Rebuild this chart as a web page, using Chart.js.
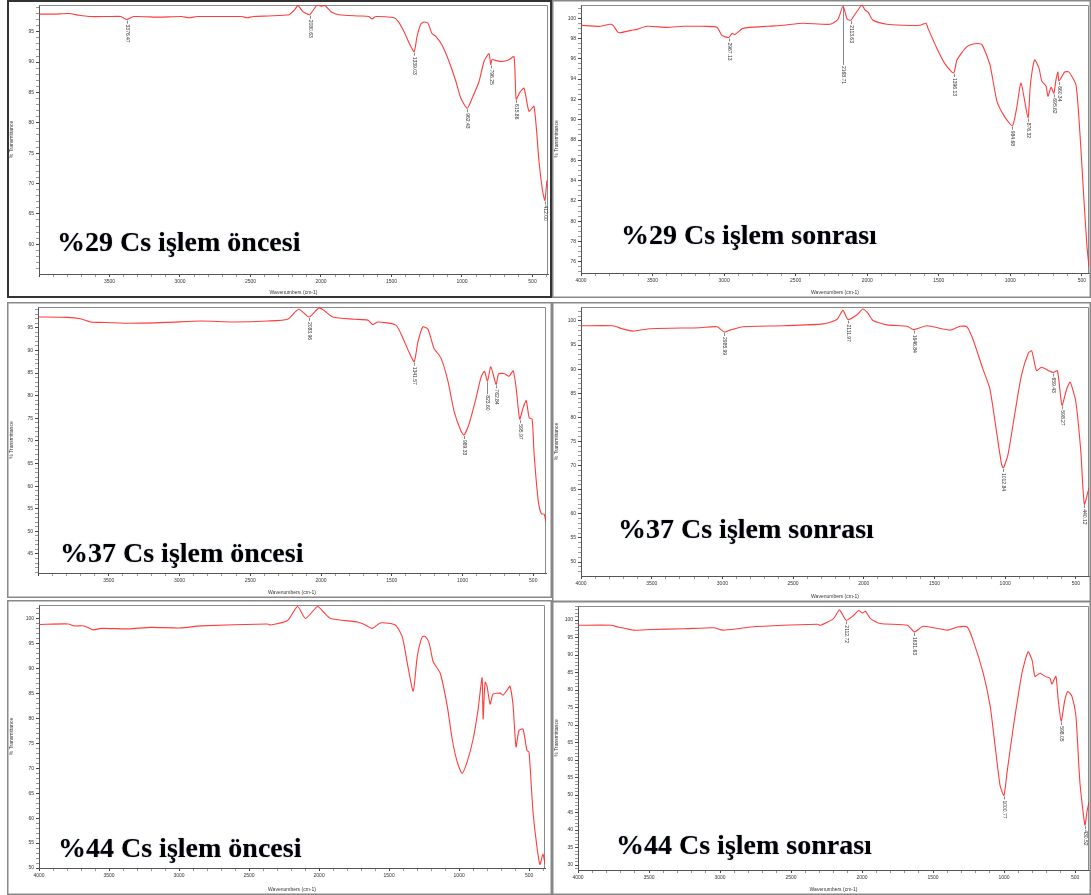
<!DOCTYPE html>
<html>
<head>
<meta charset="utf-8">
<script src="https://cdn.jsdelivr.net/npm/chart.js@4.4.1/dist/chart.umd.min.js"></script>
<style>
  html, body { margin: 0; padding: 0; background: #fff; }
  body { width: 1091px; height: 895px; position: relative; overflow: hidden; }
  canvas { position: absolute; }
</style>
</head>
<body>
<canvas id="c1"></canvas>
<canvas id="c2"></canvas>
<canvas id="c3"></canvas>
<canvas id="c4"></canvas>
<canvas id="c5"></canvas>
<canvas id="c6"></canvas>
<script>
// ---- FTIR spectra: wavenumber (cm-1) and % transmittance ----
const wn29Before = [4000,3894,3787,3716,3645,3504,3420,3376.47,3330,3149,2990,2936,2880,2652,2560,2525,2480,2369,2227,2191,2163,2128,2080.63,2057,2028,2000,1972,1929,1872,1730,1660,1638,1610,1482,1447,1411,1376,1339.03,1319,1291,1270,1241,1213,1184,1142,1092,1043,1007,962.43,929,879,844,809,796.25,787,750,716,667,631,615.86,590,560,525,489,454,430,412,398];
const tr29Before = [97.9,97.9,98.0,97.7,97.5,97.5,97.5,97.0,97.5,97.4,97.5,97.3,97.5,97.5,97.5,97.3,97.5,97.6,97.8,98.5,99.3,98.3,97.8,98.5,99.4,99.2,99.3,98.3,97.8,97.6,97.5,97.1,97.5,97.3,96.5,95.0,93.2,91.7,94.2,96.3,96.6,96.4,94.7,94.2,92.8,90.1,86.8,84.0,82.4,84.0,86.8,90.1,91.4,89.6,90.4,90.2,90.1,90.4,90.9,83.9,85.0,85.7,81.9,82.7,73.7,69.0,67.2,70.5];
const peaks29Before = [3376.47,2080.63,1339.03,962.43,796.25,615.86,412];

const wn29After = [4000,3867,3800,3776,3741,3713,3650,3609,3539,3400,3287,3150,3050,3015,2967.13,2945,2924,2868,2700,2588,2449,2260,2204,2168.71,2140,2113.63,2099,2050,2036,2015,1994,1959,1862,1750,1631,1589,1575,1512,1456,1396.13,1372,1303,1233,1198,1142,1093,1040,984.68,955,925,876.32,860,830,800,780,750,737,715,695.62,680,667,660.34,620,590,541,513,485,464,450];
const tr29After = [99.3,99.2,99.4,99.3,98.6,98.6,98.8,98.9,99.2,99.1,99.2,99.2,99.1,98.3,98.1,98.5,98.4,99.0,99.2,99.3,99.5,99.4,99.9,101.2,99.9,99.8,100.1,101.1,101.3,100.8,100.6,99.8,99.4,99.3,99.3,99.5,99.0,97.0,95.5,94.6,95.9,97.2,97.5,97.4,95.4,91.8,90.3,89.4,91.2,93.6,90.2,93.4,95.9,95.1,93.8,93.3,92.3,93.2,92.6,94.0,94.7,93.8,94.7,94.7,93.4,88.6,82.0,77.5,75.5];
const peaks29After = [2967.13,2168.71,2113.63,1396.13,984.68,876.32,695.62,660.34];

const wn37Before = [4000,3794,3701,3630,3560,3369,3086,2852,2618,2377,2236,2158,2083.96,2016,1981,1917,1768,1669,1634,1598,1471,1421,1379,1341.57,1315,1280,1244,1202,1152,1103,1060,1011,989.33,954,904,870,845,823.6,800,762.84,745,706,671,642,621,595.97,572,550,529,508,494,465,443,423,410];
const tr37Before = [97.4,97.3,97.0,96.3,96.2,96.0,96.2,96.5,96.3,96.5,96.9,99.1,97.4,99.4,98.9,97.4,96.9,96.7,95.7,96.3,95.6,92.7,89.7,87.5,91.9,95.2,94.7,90.5,88.3,83.2,76.6,72.2,71.3,73.7,79.5,84.0,85.4,83.2,86.4,82.5,84.8,84.9,84.3,85.5,81.7,74.8,77.3,78.9,75.1,74.8,67.1,56.8,53.9,53.8,52.1];
const peaks37Before = [2083.96,1341.57,989.33,823.6,762.84,595.97];

const wn37After = [4000,3774,3710,3632,3512,3158,3038,2985.99,2946,2854,2571,2289,2190,2147,2111.97,2048,2006,1970,1935,1836,1694,1646.84,1553,1390,1320,1270,1228,1157,1108,1058,1025,1012.84,980,930,885,835,812,778,743,693,659.43,630,598.27,565,540,500,465,440.12,407];
const tr37After = [99.0,99.0,98.4,97.9,98.4,98.6,98.8,97.7,98.1,98.8,99.0,99.4,100.3,102.2,100.3,101.3,102.5,101.6,100.1,99.2,98.9,98.2,99.0,98.1,98.9,98.8,96.2,90.0,85.9,76.4,70.2,69.5,72.3,81.1,88.7,93.4,93.8,89.7,90.4,89.7,89.3,89.7,82.5,85.9,87.3,83.2,73.0,62.0,65.4];
const peaks37After = [2985.99,2111.97,1646.84,1012.84,659.43,598.27,440.12];

const wn44Before = [4000,3792,3749,3678,3614,3557,3365,3201,2987,2845,2368,2346,2225,2154,2097,2011,1969,1919,1726,1684,1620,1563,1456,1406,1370,1328,1299,1264,1242,1214,1185,1135,1085,1050,1014,979,943,900,865,836,829,815,801,779,758,708,687,658,637,615,594,573,544,516,501,473,444,423,402,387];
const tr44Before = [98.9,99.0,98.6,98.6,97.8,98.1,98.0,98.3,98.2,98.6,99.0,98.8,99.7,102.5,100.1,102.5,101.4,100.1,99.4,99.0,98.1,99.2,98.8,96.4,91.1,85.5,92.5,96.4,96.5,95.1,91.4,89.1,82.5,75.9,71.3,69.0,71.3,75.9,81.8,88.2,79.9,87.3,86.5,82.9,84.9,85.1,84.7,85.7,86.5,82.6,74.3,77.6,77.9,73.6,73.3,61.4,54.2,50.7,52.8,50.9];
const peaks44Before = [];

const wn44After = [4000,3767,3718,3605,3486,3254,3044,2980,2875,2784,2552,2313,2292,2201,2159,2112.72,2060,2025,1997,1976,1941,1871,1681,1631.63,1569,1400,1330,1260,1218,1147,1098,1063,1028,1000.77,979,937,874,831,803,782,747,712,677,663,635,621,598.05,572,551,522,494,466,430.52,417,402];
const tr44After = [98.5,98.5,98.0,97.1,97.3,97.5,97.8,97.1,97.5,98.0,98.5,98.8,98.5,100.4,102.9,99.9,101.3,102.7,102.0,102.5,100.4,99.0,98.5,96.6,98.2,97.1,98.0,98.0,94.2,84.8,75.4,64.0,52.7,49.9,56.5,68.8,84.8,90.9,88.6,83.9,84.8,83.9,83.4,81.7,83.9,78.2,71.1,77.2,79.6,78.2,72.5,53.6,41.4,45.1,48.0];
const peaks44After = [2112.72,1631.63,1000.77,598.05,430.52];

const panelTitles = ['%29 Cs işlem öncesi','%29 Cs işlem sonrası','%37 Cs işlem öncesi','%37 Cs işlem sonrası','%44 Cs işlem öncesi','%44 Cs işlem sonrası'];

// ---- layout of the six panels (page pixels) ----
const panels = [
  { id:'c1', left:7,   top:0,   w:545, h:298, area:{l:39, t:3,   r:548,  b:274}, x:[390,4000], y:[55.1,99.4], yMajor:5, yMinor:1, wn:wn29Before, tr:tr29Before, peaks:peaks29Before, title:panelTitles[0], tx:57,  ty:251, frame:'#333', fw:2, hide4000:true,  lead:{} },
  { id:'c2', left:552, top:0,   w:539, h:298, area:{l:581,t:3,   r:1089, b:273}, x:[450,4000], y:[74.9,101.3], yMajor:2, yMinor:0.5, wn:wn29After, tr:tr29After, peaks:peaks29After, title:panelTitles[1], tx:621, ty:244, frame:'#888', fw:1.5, hide4000:false, lead:{2168.71:58} },
  { id:'c3', left:7,   top:302, w:545, h:296, area:{l:38, t:306, r:546,  b:573}, x:[410,4000], y:[40.8,99.6], yMajor:5, yMinor:1, wn:wn37Before, tr:tr37Before, peaks:peaks37Before, title:panelTitles[2], tx:60,  ty:562, frame:'#888', fw:1.5, hide4000:true,  lead:{823.6:12} },
  { id:'c4', left:552, top:302, w:539, h:300, area:{l:581,t:305, r:1089, b:576}, x:[407,4000], y:[47.1,102.9], yMajor:5, yMinor:1, wn:wn37After, tr:tr37After, peaks:peaks37After, title:panelTitles[3], tx:618, ty:538, frame:'#888', fw:1.5, hide4000:false, lead:{} },
  { id:'c5', left:7,   top:600, w:545, h:295, area:{l:39, t:604, r:545,  b:868}, x:[387,4000], y:[50,102.8], yMajor:5, yMinor:1, wn:wn44Before, tr:tr44Before, peaks:peaks44Before, title:panelTitles[4], tx:58,  ty:857, frame:'#888', fw:1.5, hide4000:false, lead:{} },
  { id:'c6', left:552, top:601, w:539, h:294, area:{l:578,t:606, r:1089, b:870}, x:[402,4000], y:[28.6,104], yMajor:5, yMinor:1, wn:wn44After, tr:tr44After, peaks:peaks44After, title:panelTitles[5], tx:616, ty:854, frame:'#888', fw:1.5, hide4000:false, lead:{} }
];

const tickFont = { family: '"Liberation Sans", Arial, sans-serif', size: 5 };

// evenly spaced tick values (major and minor) inside [min, max]
function tickValues(min, max, step) {
  const out = [];
  const k0 = Math.ceil(min / step - 1e-9), k1 = Math.floor(max / step + 1e-9);
  for (let k = k0; k <= k1; k++) out.push({ value: Math.round(k * step * 1000) / 1000 });
  return out;
}
const isMultiple = (v, m) => Math.abs(v / m - Math.round(v / m)) < 1e-6;

function decorPlugin(p) {
  return {
    id: 'decor_' + p.id,
    beforeDatasetsDraw(chart) {
      // thin box round the plotting area
      const a = chart.chartArea, ctx = chart.ctx;
      ctx.save();
      ctx.strokeStyle = '#8a8a8a';
      ctx.lineWidth = 1;
      ctx.beginPath();
      ctx.moveTo(Math.round(a.left) + 0.5, Math.round(a.top) + 0.5);
      ctx.lineTo(Math.round(a.right) - 0.5, Math.round(a.top) + 0.5);
      ctx.lineTo(Math.round(a.right) - 0.5, Math.round(a.bottom));
      ctx.stroke();
      ctx.restore();
    },
    afterDatasetsDraw(chart) {
      const ctx = chart.ctx, xs = chart.scales.x, ys = chart.scales.y;
      ctx.save();
      ctx.font = '5px "Liberation Sans", Arial, sans-serif';
      ctx.fillStyle = '#333';
      ctx.strokeStyle = '#555';
      ctx.lineWidth = 0.7;
      p.peaks.forEach((w) => {
        const i = p.wn.indexOf(w);
        if (i < 0) return;
        const x = Math.round(xs.getPixelForValue(w)) + 0.5;
        const y = ys.getPixelForValue(p.tr[i]);
        const len = p.lead[w] || 3;
        ctx.beginPath();
        ctx.moveTo(x, y + 1);
        ctx.lineTo(x, y + 1 + len);
        ctx.stroke();
        ctx.save();
        ctx.translate(x, y + len + 2);
        ctx.rotate(Math.PI / 2);
        ctx.textAlign = 'left';
        ctx.textBaseline = 'middle';
        ctx.fillText(w.toFixed(2), 0, 0);
        ctx.restore();
      });
      ctx.restore();
    },
    afterDraw(chart) {
      const ctx = chart.ctx;
      ctx.save();
      // panel frame
      ctx.strokeStyle = p.frame;
      ctx.lineWidth = p.fw;
      ctx.strokeRect(p.fw / 2, p.fw / 2, p.w - p.fw, p.h - p.fw);
      // sample caption
      ctx.font = 'bold 28px "Liberation Serif", "Times New Roman", serif';
      ctx.fillStyle = '#000';
      ctx.shadowColor = 'rgba(20,40,120,0.35)';
      ctx.shadowBlur = 1.5;
      ctx.textBaseline = 'alphabetic';
      ctx.fillText(p.title, p.tx - p.left, p.ty - p.top);
      ctx.restore();
    }
  };
}

panels.forEach((p) => {
  const cv = document.getElementById(p.id);
  cv.width = p.w; cv.height = p.h;
  cv.style.left = p.left + 'px'; cv.style.top = p.top + 'px';
  cv.style.width = p.w + 'px'; cv.style.height = p.h + 'px';

  const yAxisW = p.area.l - p.left;
  const xAxisH = p.top + p.h - p.area.b;
  const padTop = p.area.t - p.top;
  const padRight = p.left + p.w - p.area.r;

  new Chart(cv, {
    type: 'scatter',
    data: {
      datasets: [{
        data: p.wn.map((w, i) => ({ x: w, y: p.tr[i] })),
        showLine: true,
        borderColor: 'rgba(255,40,40,0.9)',
        borderWidth: 1.1,
        pointRadius: 0,
        tension: 0.2,
        fill: false
      }]
    },
    options: {
      responsive: false,
      animation: false,
      devicePixelRatio: 1,
      layout: { padding: { top: padTop, right: padRight, left: 0, bottom: 0 } },
      plugins: { legend: { display: false }, tooltip: { enabled: false } },
      scales: {
        x: {
          type: 'linear',
          reverse: true,
          min: p.x[0], max: p.x[1],
          afterBuildTicks(s) { s.ticks = tickValues(p.x[0], p.x[1], 100); },
          afterFit(s) { s.height = xAxisH; },
          border: { display: true, color: '#555', width: 1 },
          grid: { drawOnChartArea: false, drawTicks: true, tickLength: 3,
                  tickColor: (c) => (c.tick && isMultiple(c.tick.value, 500)) ? '#444' : '#999' },
          ticks: {
            autoSkip: false, maxRotation: 0, minRotation: 0,
            padding: 2, font: tickFont, color: '#333',
            callback: (v) => (isMultiple(v, 500) && !(p.hide4000 && v === 4000)) ? String(v) : ''
          },
          title: { display: true, text: 'Wavenumbers (cm-1)', font: tickFont, color: '#333', padding: { top: 0, bottom: 2 } }
        },
        y: {
          type: 'linear',
          min: p.y[0], max: p.y[1],
          afterBuildTicks(s) { s.ticks = tickValues(p.y[0], p.y[1], p.yMinor); },
          afterFit(s) { s.width = yAxisW; },
          border: { display: true, color: '#555', width: 1 },
          grid: { drawOnChartArea: false, drawTicks: true, tickLength: 3,
                  tickColor: (c) => (c.tick && isMultiple(c.tick.value, p.yMajor)) ? '#444' : '#999' },
          ticks: {
            autoSkip: false, padding: 2,
            font: tickFont, color: '#333',
            callback: (v) => isMultiple(v, p.yMajor) ? String(Math.round(v)) : ''
          },
          title: { display: true, text: '% Transmittance', font: tickFont, color: '#333', padding: { top: 2, bottom: 0 } }
        }
      }
    },
    plugins: [decorPlugin(p)]
  });
});
</script>
</body>
</html>
